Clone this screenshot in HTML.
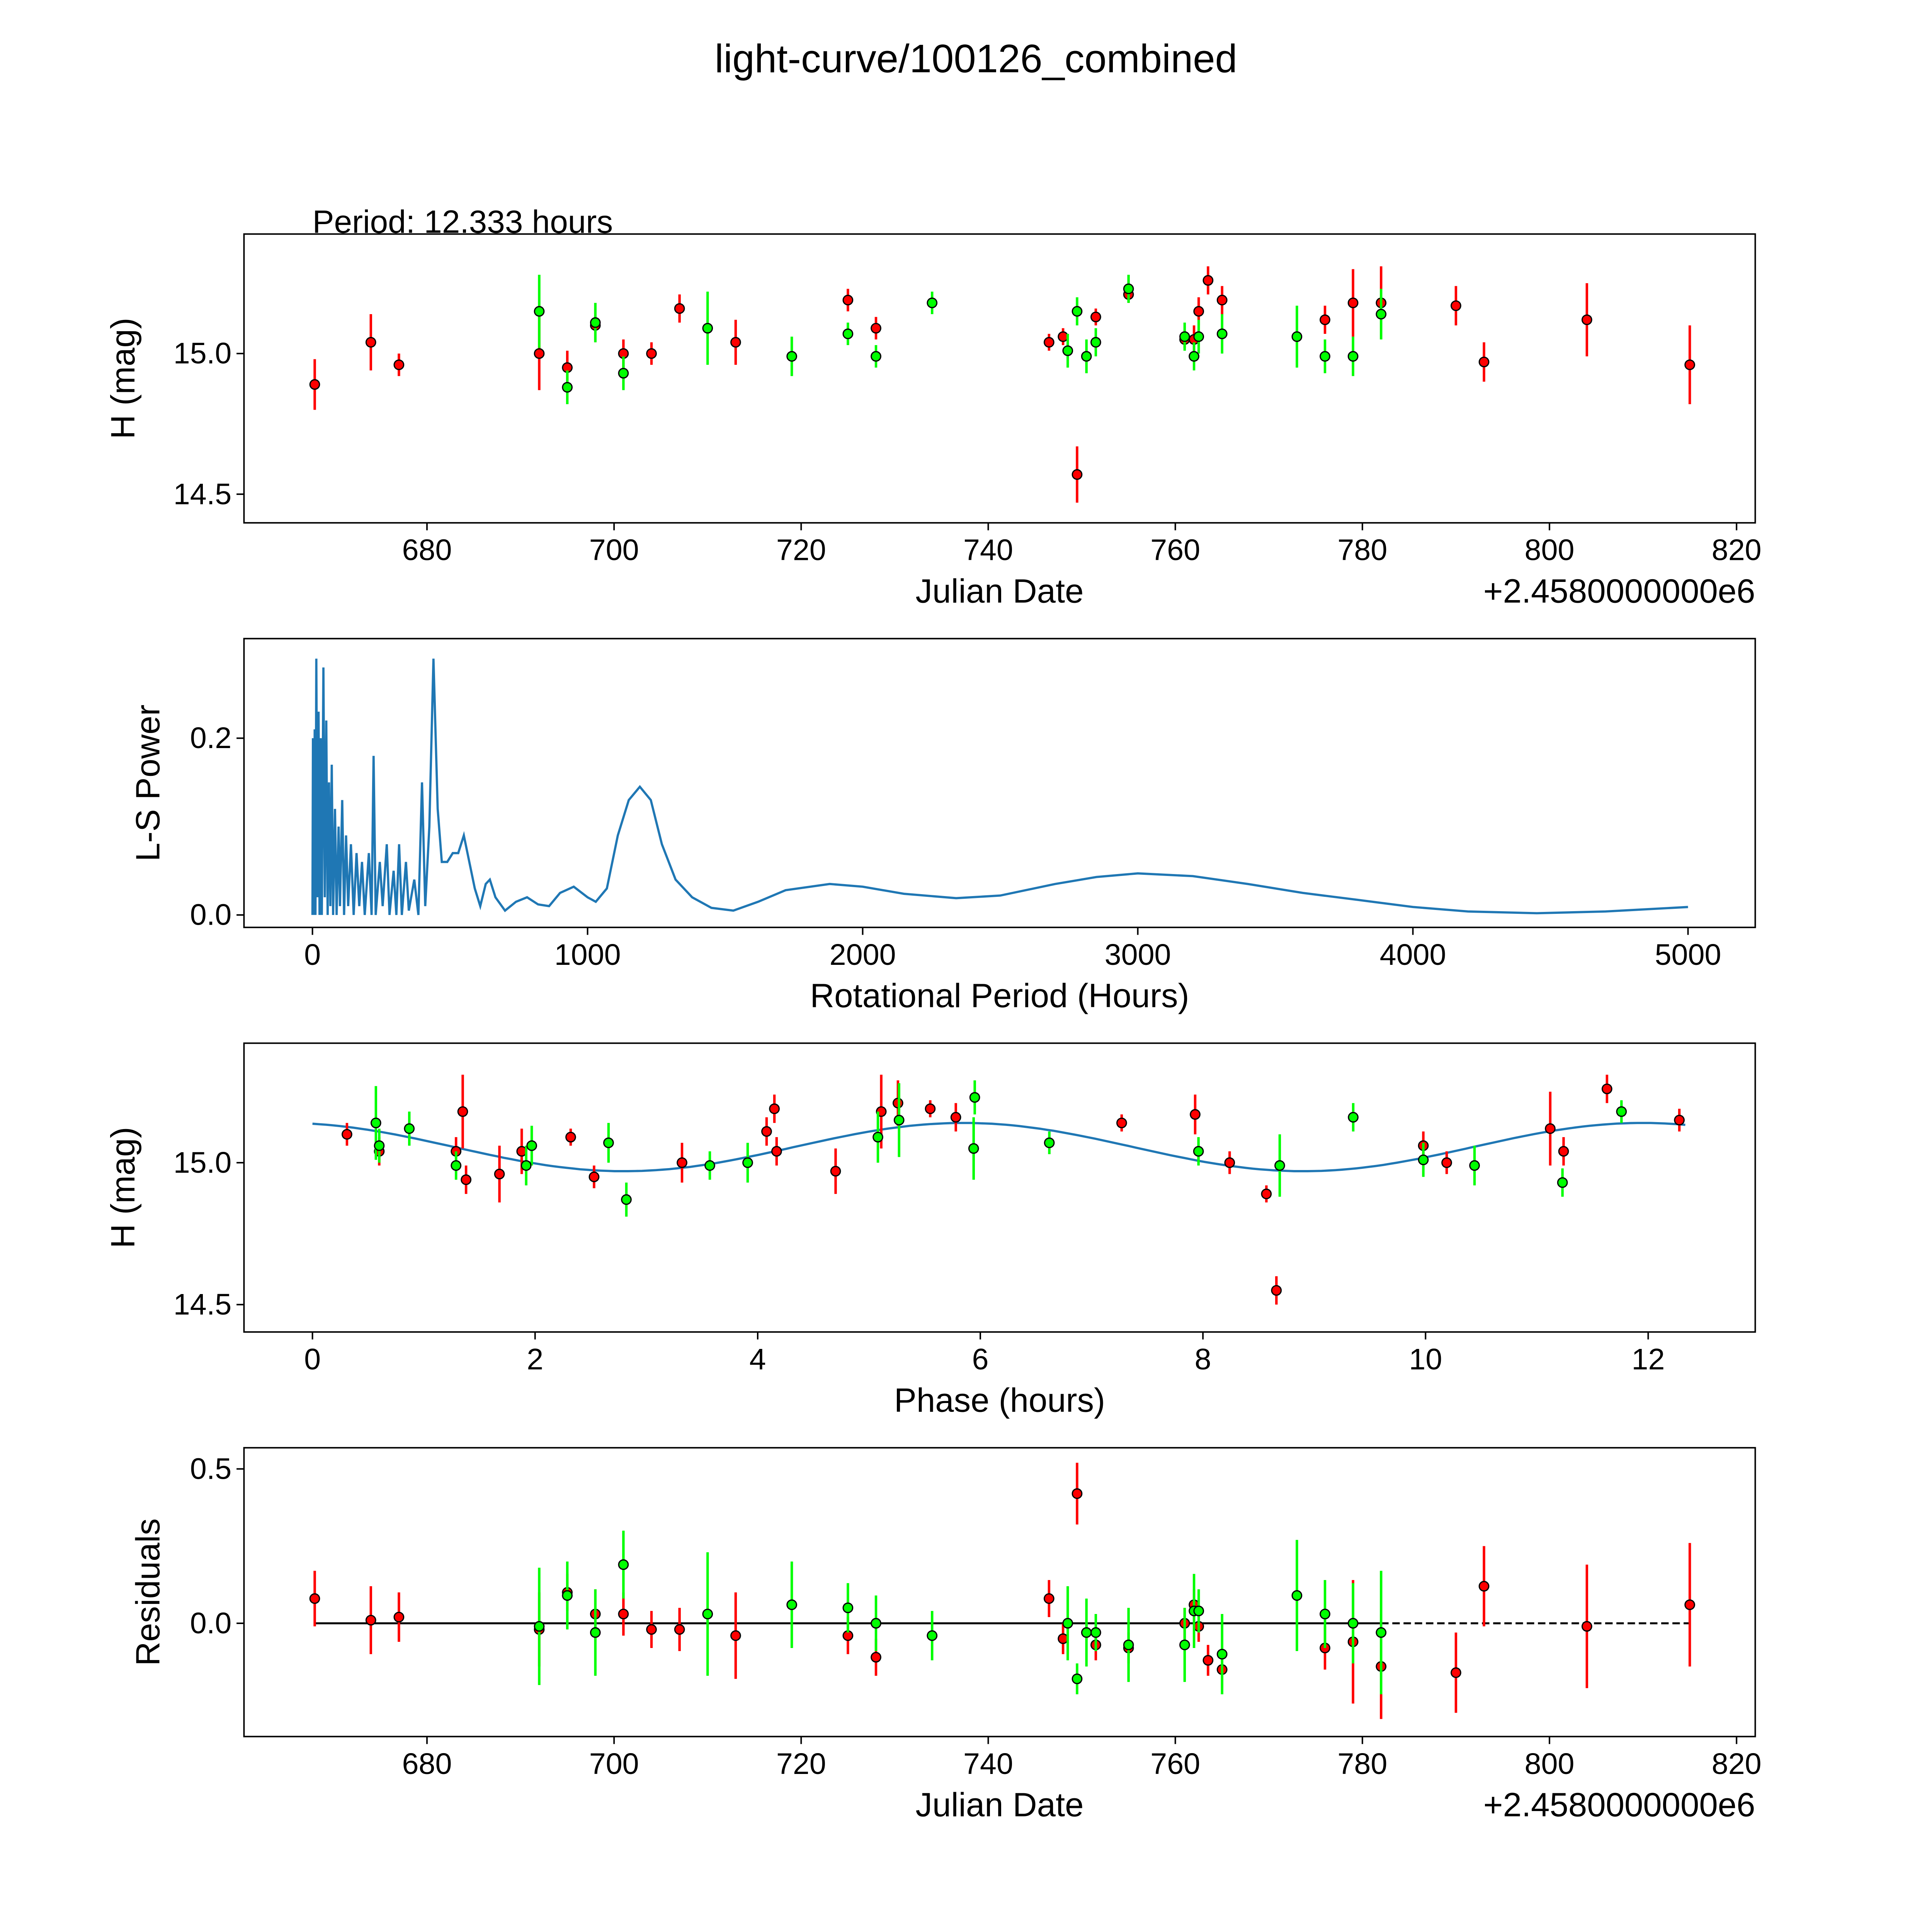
<!DOCTYPE html>
<html><head><meta charset="utf-8">
<style>
html,body{margin:0;padding:0;background:#fff;overflow:hidden;width:100%;height:100%;}
svg{display:block;width:100vw;height:100vh;font-family:"Liberation Sans","DejaVu Sans",sans-serif;}
</style></head>
<body>
<svg id="fig" xmlns="http://www.w3.org/2000/svg" viewBox="0 0 1552 1552" preserveAspectRatio="none">
<rect width="1552" height="1552" fill="#fff"/>
<text x="784" y="58" font-size="32" text-anchor="middle">light-curve/100126_combined</text>
<text x="251" y="187" font-size="26">Period: 12.333 hours</text>
<g id="root"></g>
</svg>
<script>
// ---- Data: light curve (JD offset from 2458000) ----
const redJD  = [668,674,677,692,695,698,701,704,707,713,725,728,746.5,748,749.5,751.5,755,761,762,762.5,763.5,765,776,779,782,790,793,804,815];
const redMag = [14.89,15.04,14.96,15.0,14.95,15.1,15.0,15.0,15.16,15.04,15.19,15.09,15.04,15.06,14.57,15.13,15.21,15.05,15.05,15.15,15.26,15.19,15.12,15.18,15.18,15.17,14.97,15.12,14.96];
const redErr = [0.09,0.1,0.04,0.13,0.06,0.06,0.05,0.04,0.05,0.08,0.04,0.04,0.03,0.03,0.1,0.03,0.03,0.03,0.05,0.05,0.05,0.05,0.05,0.12,0.13,0.07,0.07,0.13,0.14];
const grnJD  = [692,695,698,701,710,719,725,728,734,748.5,749.5,750.5,751.5,755,761,762,762.5,765,773,776,779,782];
const grnMag = [15.15,14.88,15.11,14.93,15.09,14.99,15.07,14.99,15.18,15.01,15.15,14.99,15.04,15.23,15.06,14.99,15.06,15.07,15.06,14.99,14.99,15.14];
const grnErr = [0.13,0.06,0.07,0.06,0.13,0.07,0.04,0.04,0.04,0.06,0.05,0.06,0.05,0.05,0.05,0.05,0.06,0.07,0.11,0.06,0.07,0.09];
// ---- Periodogram ----
const lsPeriod = [0,2,5,8,11,14,18,22,26,30,34,40,45,50,55,60,65,70,75,82,88,95,100,108,115,122,130,140,150,160,170,180,190,205,215,222,230,245,255,270,280,295,305,315,325,340,350,370,385,398,410,425,440,455,470,490,510,530,550,570,590,610,630,645,665,700,740,780,820,860,900,950,1000,1030,1070,1110,1150,1190,1230,1270,1320,1380,1450,1530,1620,1720,1880,2000,2150,2340,2500,2700,2850,3000,3200,3400,3600,3800,4000,4200,4450,4700,5000];
const lsPower  = [0,0.2,0.0,0.21,0.0,0.29,0.02,0.23,0.0,0.2,0.0,0.28,0.02,0.22,0.0,0.15,0.01,0.17,0.0,0.12,0.0,0.1,0.01,0.13,0.0,0.09,0.01,0.08,0.0,0.07,0.01,0.06,0.0,0.07,0.0,0.18,0.0,0.06,0.01,0.08,0.0,0.05,0.0,0.08,0.0,0.06,0.005,0.04,0.0,0.15,0.01,0.1,0.29,0.12,0.06,0.06,0.07,0.07,0.09,0.06,0.03,0.01,0.035,0.04,0.02,0.005,0.015,0.02,0.012,0.01,0.025,0.032,0.02,0.015,0.03,0.09,0.13,0.145,0.13,0.08,0.04,0.02,0.008,0.005,0.015,0.028,0.035,0.032,0.024,0.019,0.022,0.035,0.043,0.047,0.044,0.035,0.025,0.017,0.009,0.004,0.002,0.004,0.009];
// ---- Phase-folded ----
const redPh  = [0.31,0.6,1.29,1.35,1.38,1.68,1.88,2.32,2.53,3.32,4.08,4.15,4.17,4.7,5.11,5.26,5.55,5.78,7.27,7.93,8.24,8.57,8.66,9.98,10.19,11.12,11.24,11.63,12.28];
const redPhMag=[15.10,15.04,15.04,15.18,14.94,14.96,15.04,15.09,14.95,15.0,15.11,15.19,15.04,14.97,15.18,15.21,15.19,15.16,15.14,15.17,15.0,14.89,14.55,15.06,15.0,15.12,15.04,15.26,15.15];
const redPhErr=[0.04,0.05,0.05,0.13,0.05,0.1,0.08,0.03,0.04,0.07,0.05,0.05,0.05,0.08,0.13,0.08,0.03,0.05,0.03,0.07,0.04,0.03,0.05,0.05,0.04,0.13,0.05,0.05,0.04];
const grnPh  = [0.57,0.6,0.87,1.29,1.92,1.97,2.66,2.82,3.57,3.91,5.08,5.27,5.95,5.94,6.62,7.96,8.69,9.35,9.98,10.44,11.23,11.76];
const grnPhMag=[15.14,15.06,15.12,14.99,14.99,15.06,15.07,14.87,14.99,15.0,15.09,15.15,15.23,15.05,15.07,15.04,14.99,15.16,15.01,14.99,14.93,15.18];
const grnPhErr=[0.13,0.06,0.06,0.05,0.07,0.07,0.07,0.06,0.05,0.07,0.09,0.13,0.06,0.11,0.04,0.05,0.11,0.05,0.06,0.07,0.05,0.04];
const modelCoef = [15.055, 0.085, 5.85, 6.1];
// ---- Residuals ----
const redRes = [0.08,0.01,0.02,-0.02,0.1,0.03,0.03,-0.02,-0.02,-0.04,-0.04,-0.11,0.08,-0.05,0.42,-0.07,-0.08,0.0,0.06,-0.01,-0.12,-0.15,-0.08,-0.06,-0.14,-0.16,0.12,-0.01,0.06];
const redResErr=[0.09,0.11,0.08,0.12,0.06,0.08,0.07,0.06,0.07,0.14,0.06,0.06,0.06,0.05,0.1,0.05,0.05,0.05,0.05,0.05,0.05,0.06,0.07,0.2,0.17,0.13,0.13,0.2,0.2];
const grnRes = [-0.01,0.09,-0.03,0.19,0.03,0.06,0.05,0.0,-0.04,0.0,-0.18,-0.03,-0.03,-0.07,-0.07,0.04,0.04,-0.1,0.09,0.03,0.0,-0.03];
const grnResErr=[0.19,0.11,0.14,0.11,0.2,0.14,0.08,0.09,0.08,0.12,0.05,0.11,0.06,0.12,0.12,0.12,0.07,0.13,0.18,0.11,0.13,0.2];
const jdTicks = [680,700,720,740,760,780,800,820];
const lsTicksX = [0,1000,2000,3000,4000,5000];
const phTicks = [0,2,4,6,8,10,12];

const NS="http://www.w3.org/2000/svg";
const root=document.getElementById('root');
function mk(tag,attrs,parent){const e=document.createElementNS(NS,tag);for(const k in attrs)e.setAttribute(k,attrs[k]);(parent||root).appendChild(e);return e;}
function lin(d0,d1,p0,p1){return v=>p0+(v-d0)*(p1-p0)/(d1-d0);}

const L=196,R=1410;
function panel(name,top,bot,sx,sy,xt,yt,xlab,ylab,offset){
  const g=mk('g',{});
  
  
  xt.forEach(v=>{const x=sx(v);mk('line',{x1:x,x2:x,y1:bot,y2:bot+6,stroke:'#000','stroke-width':1.2},g);
    const t=mk('text',{x:x,y:bot+30,'font-size':24,'text-anchor':'middle'},g);t.textContent=String(v);
    });
  yt.forEach(v=>{const y=sy(v);mk('line',{x1:L-6,x2:L,y1:y,y2:y,stroke:'#000','stroke-width':1.2},g);
    const t=mk('text',{x:L-10,y:y+8,'font-size':24,'text-anchor':'end'},g);t.textContent=v.toFixed(1);
    });
  const xl=mk('text',{x:(L+R)/2,y:bot+64,'font-size':27,'text-anchor':'middle'},g);xl.textContent=xlab;
  
  const yl=mk('text',{x:0,y:0,'font-size':27,'text-anchor':'middle',transform:`translate(${offset},${(top+bot)/2}) rotate(-90)`},g);yl.textContent=ylab;
  
  return g;
}
function frame(g,top,bot){const r=mk('rect',{x:L,y:top,width:R-L,height:bot-top,fill:'none',stroke:'#000','stroke-width':1.2},g);
  }
function offsetText(g,bot){const t=mk('text',{x:R,y:bot+64,'font-size':27,'text-anchor':'end'},g);t.textContent='+2.4580000000e6';
  }
function pts(g,xs,ys,es,sx,sy,col,name){
  xs.forEach((v,i)=>{const x=sx(v);
    const l=mk('line',{x1:x,x2:x,y1:sy(ys[i]-es[i]),y2:sy(ys[i]+es[i]),stroke:col,'stroke-width':2},g);
    });
  xs.forEach((v,i)=>{const c=mk('circle',{cx:sx(v),cy:sy(ys[i]),r:3.8,fill:col,stroke:'#000','stroke-width':1},g);
    });
}
const RED='#ff0000',GRN='#00ff00';

{const top=188,bot=420,sx=lin(680,820,343,1395),sy=lin(15.0,14.5,284,397);
 const g=panel('light-curve-panel',top,bot,sx,sy,jdTicks,[14.5,15.0],'Julian Date','H (mag)',108);
 pts(g,redJD,redMag,redErr,sx,sy,RED,'red-filter');pts(g,grnJD,grnMag,grnErr,sx,sy,GRN,'green-filter');
 frame(g,top,bot);offsetText(g,bot);}
{const top=513,bot=745,sx=lin(0,5000,251,1356),sy=lin(0,0.2,735,593);
 const g=panel('periodogram-panel',top,bot,sx,sy,lsTicksX,[0.0,0.2],'Rotational Period (Hours)','L-S Power',128);
 const p=mk('polyline',{points:lsPeriod.map((v,i)=>sx(v).toFixed(1)+','+sy(lsPower[i]).toFixed(1)).join(' '),fill:'none',stroke:'#1f77b4','stroke-width':1.8},g);
 
 frame(g,top,bot);}
{const top=838,bot=1070,sx=lin(0,12,251,1324),sy=lin(15.0,14.5,934,1048);
 const g=panel('phase-panel',top,bot,sx,sy,phTicks,[14.5,15.0],'Phase (hours)','H (mag)',108);
 const mp=[];for(let i=0;i<=200;i++){const p=12.333*i/200;const m=modelCoef[0]+modelCoef[1]*Math.cos(2*Math.PI*(p-modelCoef[2])/modelCoef[3]);mp.push(sx(p).toFixed(1)+','+sy(m).toFixed(1));}
 const ml=mk('polyline',{points:mp.join(' '),fill:'none',stroke:'#1f77b4','stroke-width':1.8},g);
 
 pts(g,redPh,redPhMag,redPhErr,sx,sy,RED,'red-phase');pts(g,grnPh,grnPhMag,grnPhErr,sx,sy,GRN,'green-phase');
 frame(g,top,bot);}
{const top=1163,bot=1395,sx=lin(680,820,343,1395),sy=lin(0,0.5,1304,1180);
 const g=panel('residuals-panel',top,bot,sx,sy,jdTicks,[0.0,0.5],'Julian Date','Residuals',128);
 const z1=mk('line',{x1:sx(668),x2:sx(782),y1:sy(0),y2:sy(0),stroke:'#000','stroke-width':1.6},g);
 
 const z2=mk('line',{x1:sx(782),x2:sx(815),y1:sy(0),y2:sy(0),stroke:'#000','stroke-width':1.6,'stroke-dasharray':'6,3'},g);
 
 pts(g,redJD,redRes,redResErr,sx,sy,RED,'red-residual');pts(g,grnJD,grnRes,grnResErr,sx,sy,GRN,'green-residual');
 frame(g,top,bot);offsetText(g,bot);}
</script>
</body></html>
